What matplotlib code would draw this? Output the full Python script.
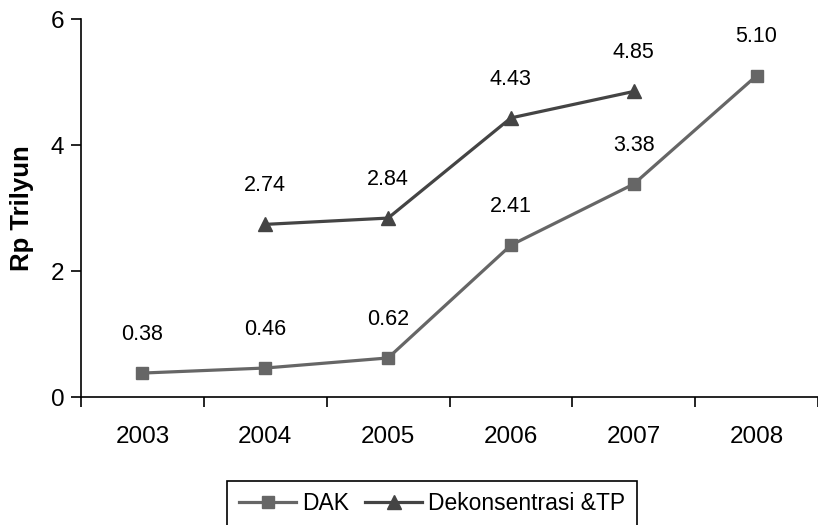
import matplotlib
matplotlib.use("Agg")
import matplotlib.pyplot as plt
import numpy as np

plt.rcParams['font.family'] = ['Liberation Sans', 'DejaVu Sans']

years = ["2003", "2004", "2005", "2006", "2007", "2008"]
dak = [0.38, 0.46, 0.62, 2.41, 3.38, 5.10]
dekon = [np.nan, 2.74, 2.84, 4.43, 4.85, np.nan]
dak_labels = ["0.38", "0.46", "0.62", "2.41", "3.38", "5.10"]
dekon_labels = ["", "2.74", "2.84", "4.43", "4.85", ""]

fig = plt.figure(figsize=(8.18, 5.25), dpi=100)
ax = fig.add_axes([81/818, 1-397/525, 1-81/818, (397-19)/525])

x = np.arange(len(years))
c_dak = "#666666"
c_dek = "#444444"
ax.plot(x, dak, color=c_dak, lw=2.3, marker='s', ms=8, label="DAK")
ax.plot(x, dekon, color=c_dek, lw=2.3, marker='^', ms=9.5, label="Dekonsentrasi &TP")

for xi, v, t in zip(x, dak, dak_labels):
    ax.annotate(t, (xi, v), xytext=(0, 28), textcoords='offset points',
                ha='center', va='center', fontsize=15.5)
for xi, v, t in zip(x, dekon, dekon_labels):
    if t:
        ax.annotate(t, (xi, v), xytext=(0, 28), textcoords='offset points',
                    ha='center', va='center', fontsize=15.5)

ax.set_xlim(-0.5, len(years) - 0.5)
ax.set_ylim(0, 6)
ax.set_yticks([0, 2, 4, 6])
ax.set_yticklabels(["0", "2", "4", "6"], fontsize=17.5)
ax.set_xticks(x)
ax.set_xticklabels(years, fontsize=17.5)
ax.tick_params(axis='x', length=0, pad=21)
ax.set_xticks(np.arange(-0.5, len(years), 1), minor=True)
ax.tick_params(axis='x', which='minor', length=7, width=1.2, direction='out')
ax.tick_params(axis='y', length=7, width=1.2, direction='out', pad=5)
for s in ['top', 'right']:
    ax.spines[s].set_visible(False)
for s in ['left', 'bottom']:
    ax.spines[s].set_linewidth(1.2)
ax.set_ylabel("Rp Trilyun", fontsize=18.5, fontweight='bold', labelpad=12)

leg = fig.legend(loc='upper center', bbox_to_anchor=(432/818, 1-481/525), ncol=2,
                 fancybox=False, edgecolor='black', framealpha=1, fontsize=16.5,
                 handlelength=2.5, columnspacing=0.7, handletextpad=0.25,
                 borderpad=0.5, borderaxespad=0)
leg.get_frame().set_linewidth(1.2)

fig.savefig("out.png", dpi=100)
